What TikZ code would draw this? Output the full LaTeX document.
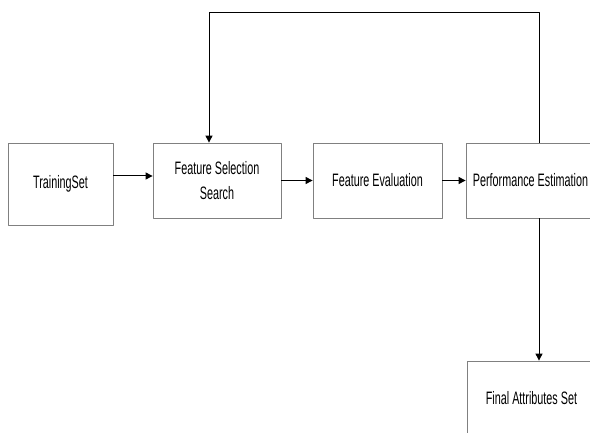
\documentclass[tikz,border=0pt]{standalone}
\usepackage{fontspec}
\newfontfamily\diafont[FakeStretch=0.6]{Liberation Sans}
\usetikzlibrary{arrows.meta}

\begin{document}
\begin{tikzpicture}[line join=round,>={Triangle[length=7pt,width=7pt]},x=1pt,y=-1pt,
    box/.style={draw=gray,line width=0.8pt,minimum width=129pt,minimum height=75pt,
      inner sep=0pt,align=center,font=\diafont\fontsize{18}{25}\selectfont},
    pfeil/.style={->,line width=1pt,color=black}]
     \clip (0,0) rectangle (590,433); % Bildrand
     \node[box,minimum width=105pt,minimum height=82pt] (ts) at (60.5,184) {TrainingSet};
     \node[box,minimum width=128pt] (fs) at (217,180.5) {Feature Selection\\Search};
     \node[box] (fe) at (377.5,180.5) {Feature Evaluation};
     \node[box] (pe) at (530.5,180.5) {Performance Estimation};
     \node[box] (fa) at (531.5,398.5) {Final Attributes Set};

     \coordinate (oben) at (539,13); % Rueckfuehrung rechts oben
     \coordinate (links) at (209,13); % Rueckfuehrung links oben

     \draw[pfeil] ([yshift=8pt]ts.east) -- ([yshift=8pt]ts.east -| fs.west);
     \draw[pfeil] (fs) -- (fe);
     \draw[pfeil] (fe) -- (pe);
     \draw[pfeil] (pe.north -| oben) -- (oben) -- (links) -- (links |- fs.north); % Schleife
     \draw[pfeil] (pe.south -| oben) -- (fa.north -| oben);
\end{tikzpicture}
\end{document}
